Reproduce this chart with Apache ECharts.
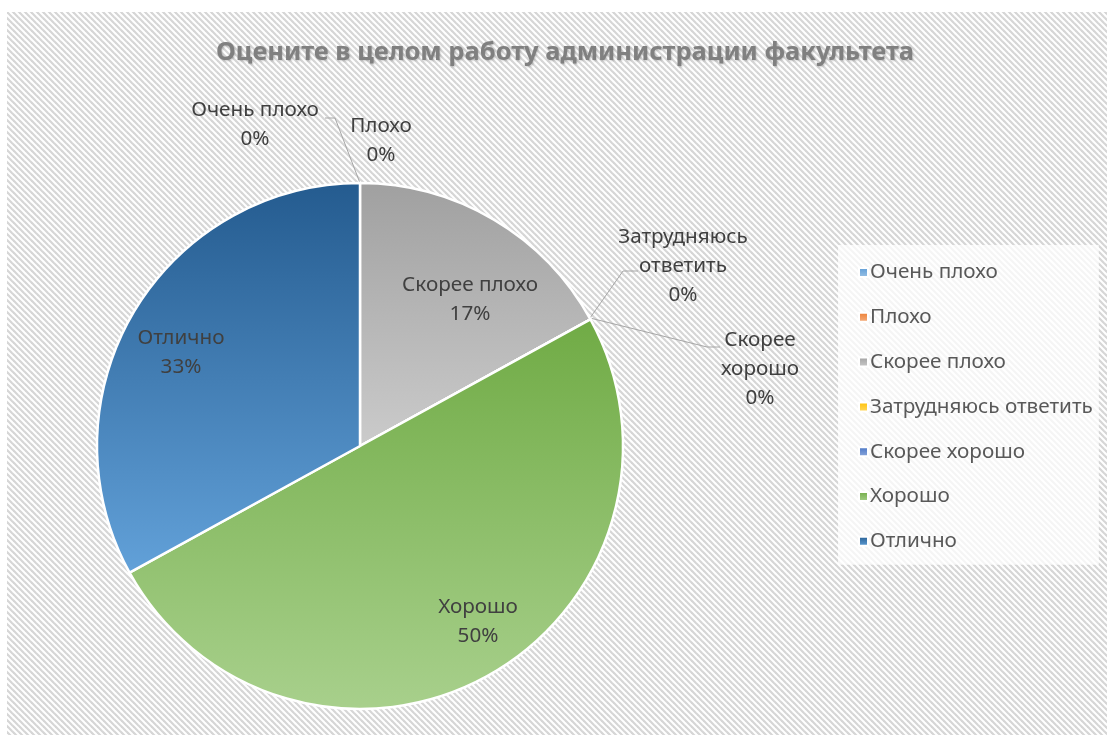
<!DOCTYPE html>
<html>
<head>
<meta charset="utf-8">
<script src="https://cdn.jsdelivr.net/npm/echarts@6/dist/echarts.min.js"></script>
<style>
  html, body { margin: 0; padding: 0; background: #ffffff; }
  #main { position: absolute; left: 7px; top: 12px; width: 1100px; height: 723px; }
</style>
</head>
<body>
<div id="main"></div>
<script>
// данные
var categories = ['Очень плохо', 'Плохо', 'Скорее плохо', 'Затрудняюсь ответить', 'Скорее хорошо', 'Хорошо', 'Отлично'];
var values = [0, 0, 17, 0, 0, 50, 33];
var chartTitle = 'Оцените в целом работу администрации факультета';

// цвета (верх/низ градиента)
var colorsTop = ['#5b9bd5', '#ed7d31', '#a0a0a0', '#ffc000', '#4472c4', '#70ab45', '#245b8f'];
var colorsBottom = ['#9dc3e6', '#f4b183', '#cbcbcb', '#ffd966', '#8faadc', '#a8d08c', '#62a1d9'];

var chart = echarts.init(document.getElementById('main'));

// фон в косую полоску
var tile = document.createElement('canvas');
tile.width = 6; tile.height = 6;
var ctx = tile.getContext('2d');
ctx.fillStyle = '#ffffff';
ctx.fillRect(0, 0, 6, 6);
ctx.strokeStyle = '#d6d6d6';
ctx.lineWidth = 2.2;
for (var k = -6; k <= 6; k += 6) {
    ctx.beginPath();
    ctx.moveTo(k - 1, -1);
    ctx.lineTo(k + 7, 7);
    ctx.stroke();
}

var cx = 353, cy = 434, R = 263;

// положение подписей относительно центра круга
var labelPos = {
    0: { t: [-105, -321], line: [[0, -263], [-25, -328], [-35, -328]] },
    1: { t: [21, -305] },
    2: { t: [110, -146] },
    3: { t: [323, -180], line: [[230, -128], [263, -175], [278, -175]] },
    4: { t: [400, -77], line: [[230, -128], [347, -99], [360, -99]] },
    5: { t: [118, 176] },
    6: { t: [-179, -93] }
};

// подписи, которые переносятся на две строки
var wrapped = { 3: true, 4: true };

var seriesData = [];
for (var i = 0; i < categories.length; i++) {
    var item = {
        name: categories[i],
        value: values[i],
        itemStyle: {
            color: new echarts.graphic.LinearGradient(0, 0, 0, 1, [
                { offset: 0, color: colorsTop[i] },
                { offset: 1, color: colorsBottom[i] }
            ])
        },
        label: {
            position: values[i] > 0 ? 'inside' : 'outside'
        }
    };
    if (i == 1) item.labelLine = { show: false };
    seriesData.push(item);
}

var option = {
    backgroundColor: { image: tile, repeat: 'repeat' },
    title: {
        text: chartTitle,
        left: 553,
        top: 23,
        textAlign: 'center',
        textStyle: {
            fontFamily: 'Noto Sans',
            fontSize: 25.5,
            fontWeight: 'bold',
            color: '#808080',
            textShadowColor: 'rgba(0,0,0,0.2)',
            textShadowBlur: 2,
            textShadowOffsetX: 1,
            textShadowOffsetY: 1
        }
    },
    legend: {
        orient: 'vertical',
        left: 831,
        top: 233,
        padding: [17, 6, 13, 20],
        backgroundColor: 'rgba(255,255,255,0.75)',
        itemWidth: 9,
        itemHeight: 9,
        itemGap: 23.8,
        icon: 'rect',
        data: categories,
        textStyle: {
            fontFamily: 'Noto Sans',
            fontSize: 20.7,
            lineHeight: 20,
            color: '#595959',
            padding: [0, 0, 0, -3]
        }
    },
    series: [
        {
            type: 'pie',
            center: [cx, cy],
            radius: R,
            startAngle: 90,
            clockwise: true,
            percentPrecision: 0,
            animation: false,
            avoidLabelOverlap: false,
            data: seriesData,
            itemStyle: {
                borderColor: '#ffffff',
                borderWidth: 2.5
            },
            label: {
                formatter: function (p) {
                    var name = wrapped[p.dataIndex] ? p.name.replace(' ', '\n') : p.name;
                    return name + '\n' + p.percent + '%';
                },
                fontFamily: 'Noto Sans',
                fontSize: 20.7,
                lineHeight: 29,
                color: '#404040',
                align: 'center'
            },
            labelLine: {
                show: true,
                lineStyle: { color: '#a6a6a6', width: 1 }
            },
            labelLayout: function (params) {
                var p = labelPos[params.dataIndex];
                var res = {
                    x: cx + p.t[0],
                    y: cy + p.t[1],
                    align: 'center',
                    verticalAlign: 'middle'
                };
                if (p.line) {
                    res.labelLinePoints = p.line.map(function (q) { return [cx + q[0], cy + q[1]]; });
                }
                return res;
            }
        }
    ]
};

chart.setOption(option);
</script>
</body>
</html>
